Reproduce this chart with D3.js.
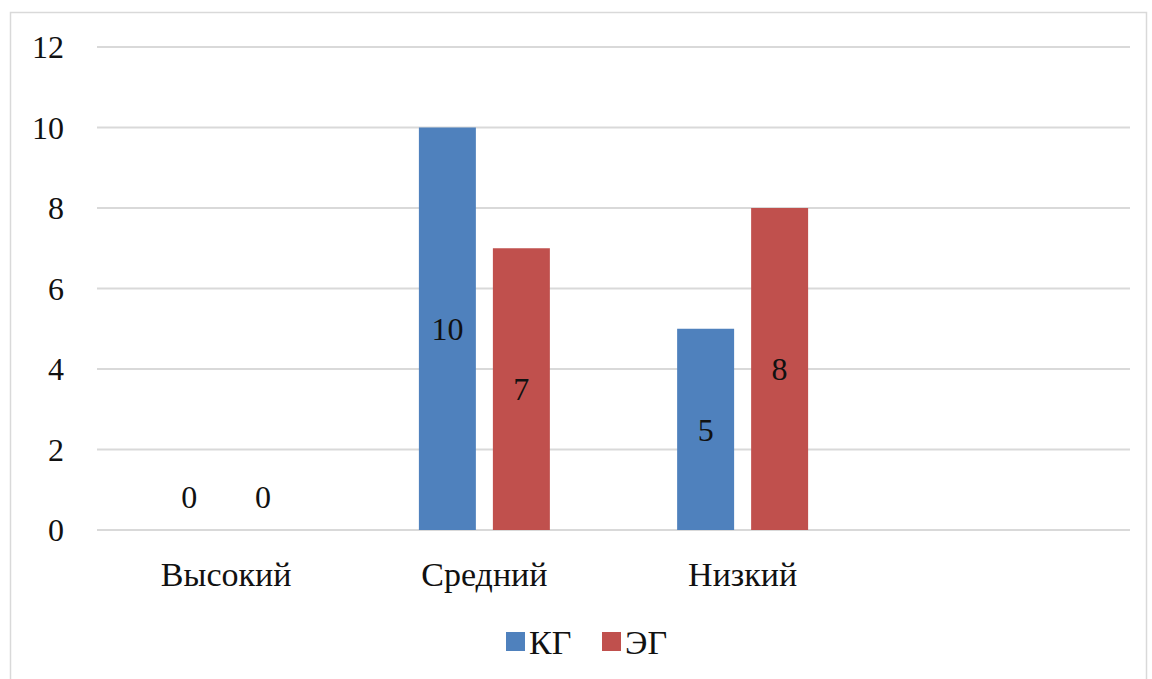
<!DOCTYPE html>
<html>
<head>
<meta charset="utf-8">
<script src="https://cdn.jsdelivr.net/npm/d3@7"></script>
<style>
  html, body { margin: 0; padding: 0; background: #fff; }
  svg { display: block; }
</style>
</head>
<body>
<div id="chart"></div>
<script>
// chart data
const categories = ['Высокий', 'Средний', 'Низкий', ''];
const seriesNames = ['КГ', 'ЭГ'];
const kgValues = [0, 10, 5, null];
const egValues = [0, 7, 8, null];
const yTicks = [0, 2, 4, 6, 8, 10, 12];

const width = 1152;
const height = 679;
const margin = { top: 47, right: 22, bottom: 149, left: 97 };
const colors = ['#4f81bd', '#c0504d'];
const numSize = '32px';
const wordSize = '34px';
const fontFamily = 'Liberation Serif';

const svg = d3.select('#chart').append('svg')
  .attr('width', width)
  .attr('height', height);

// outer frame
svg.append('rect')
  .attr('x', 10.5).attr('y', 12.5)
  .attr('width', 1136).attr('height', 700)
  .attr('fill', 'none')
  .attr('stroke', '#d9d9d9')
  .attr('stroke-width', 1.5);

const x0 = d3.scaleBand()
  .domain(categories.map((d, i) => i))
  .range([margin.left, width - margin.right])
  .paddingInner(0)
  .paddingOuter(0);

const x1 = d3.scaleBand()
  .domain(seriesNames)
  .range([0, x0.bandwidth()])
  .paddingInner(0.23)
  .paddingOuter(0.86);

const y = d3.scaleLinear()
  .domain([0, 12])
  .range([height - margin.bottom, margin.top]);

// gridlines
svg.append('g')
  .selectAll('line')
  .data(yTicks)
  .enter()
  .append('line')
  .attr('x1', margin.left)
  .attr('x2', width - margin.right)
  .attr('y1', (d) => y(d))
  .attr('y2', (d) => y(d))
  .attr('stroke', '#d9d9d9')
  .attr('stroke-width', 2);

// y axis labels
const yAxis = svg.append('g')
  .attr('transform', 'translate(' + 64 + ',0)')
  .call(d3.axisLeft(y).tickValues(yTicks).tickSize(0).tickPadding(0));
yAxis.select('.domain').remove();
yAxis.selectAll('text')
  .style('font-family', fontFamily)
  .style('font-size', numSize)
  .attr('fill', '#111')
  .attr('dy', '0.34em');

// x axis labels
const xAxis = svg.append('g')
  .attr('transform', 'translate(0,' + y(0) + ')')
  .call(d3.axisBottom(x0).tickFormat((i) => categories[i]).tickSize(0).tickPadding(0));
xAxis.select('.domain').remove();
xAxis.selectAll('text')
  .style('font-family', fontFamily)
  .style('font-size', wordSize)
  .attr('fill', '#111')
  .attr('y', 56)
  .attr('dy', 0);

const table = categories.map((c, i) => ({
  idx: i,
  values: [
    { s: seriesNames[0], v: kgValues[i] },
    { s: seriesNames[1], v: egValues[i] }
  ]
}));

const groups = svg.append('g')
  .selectAll('g')
  .data(table)
  .enter()
  .append('g')
  .attr('transform', (d) => 'translate(' + x0(d.idx) + ',0)');

groups.selectAll('rect')
  .data((d) => d.values.filter((e) => e.v !== null))
  .enter()
  .append('rect')
  .attr('x', (d) => x1(d.s))
  .attr('y', (d) => y(d.v))
  .attr('width', x1.bandwidth())
  .attr('height', (d) => y(0) - y(d.v))
  .attr('fill', (d) => colors[seriesNames.indexOf(d.s)]);

// data labels, centred in bar; zero bars get label above axis
groups.selectAll('text.lbl')
  .data((d) => d.values.filter((e) => e.v !== null))
  .enter()
  .append('text')
  .attr('class', 'lbl')
  .attr('x', (d) => x1(d.s) + x1.bandwidth() / 2)
  .attr('y', (d) => d.v === 0 ? y(0) - 33 : (y(d.v) + y(0)) / 2)
  .attr('dy', '0.35em')
  .attr('text-anchor', 'middle')
  .style('font-family', fontFamily)
  .style('font-size', numSize)
  .attr('fill', '#111')
  .text((d) => d.v);

// legend
const legend = svg.append('g')
  .attr('transform', 'translate(506,632)');
const legendPos = [0, 96];
seriesNames.forEach((name, i) => {
  const g = legend.append('g').attr('transform', 'translate(' + legendPos[i] + ',0)');
  g.append('rect')
    .attr('width', 19).attr('height', 19)
    .attr('fill', colors[i]);
  g.append('text')
    .attr('x', 23)
    .attr('y', 22)
    .style('font-family', fontFamily)
    .style('font-size', wordSize)
    .attr('fill', '#111')
    .text(name);
});
</script>
</body>
</html>
